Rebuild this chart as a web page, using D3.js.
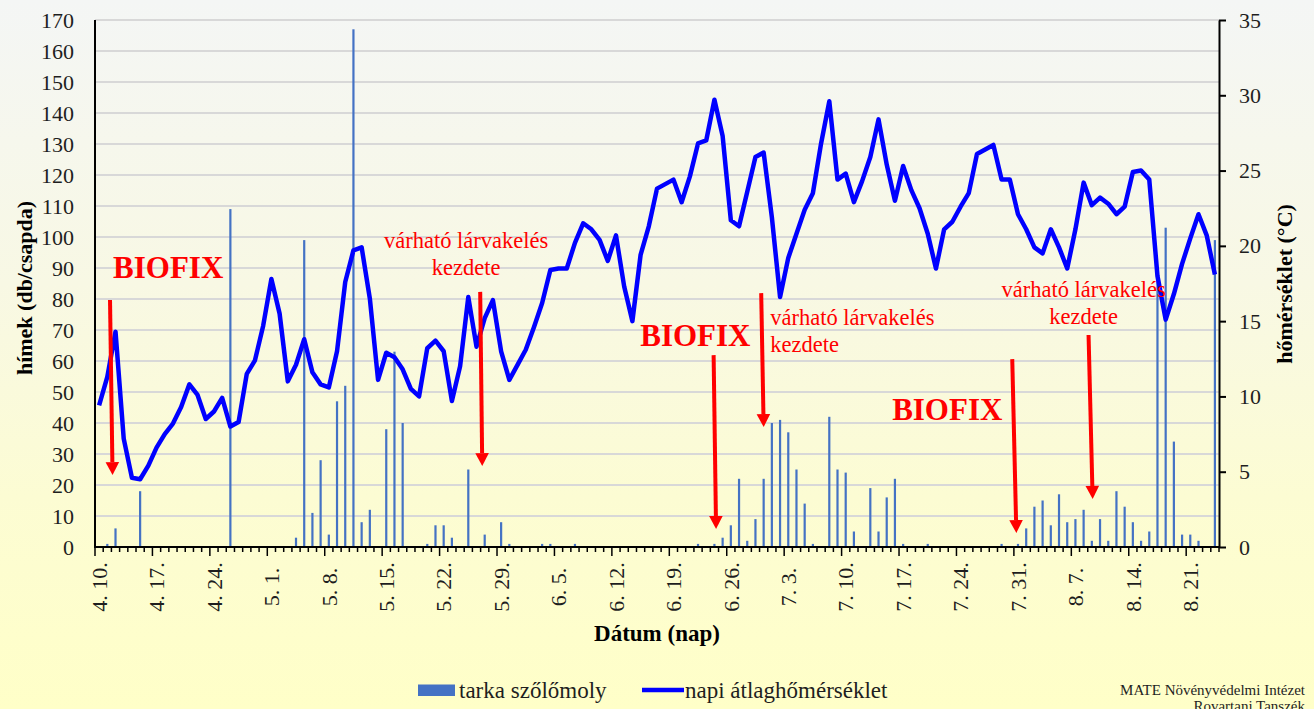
<!DOCTYPE html>
<html>
<head>
<meta charset="utf-8">
<script src="https://cdn.jsdelivr.net/npm/d3@7"></script>
<style>
  html, body { margin: 0; padding: 0; background: #fffcc8; }
  svg { display: block; font-family: "Liberation Serif", "Times New Roman", serif; }
</style>
</head>
<body>
<script>
// ---- data ----
// daily categories: 4.10. .. 8.24.
var days = d3.timeDay.range(new Date(2023, 3, 10), new Date(2023, 7, 25));

// tarka szőlőmoly catches (db/csapda), one per day, by day index
var moths = [
  0, 1, 6, 0, 0, 18, 0, 0, 0, 0,
  0, 0, 0, 0, 0, 0, 109, 0, 0, 0,
  0, 0, 0, 0, 3, 99, 11, 28, 4, 47,
  52, 167, 8, 12, 0, 38, 63, 40, 0, 0,
  1, 7, 7, 3, 0, 25, 0, 4, 0, 8,
  1, 0, 0, 0, 1, 1, 0, 0, 1, 0,
  0, 0, 0, 0, 0, 0, 0, 0, 0, 0,
  0, 0, 0, 1, 0, 1, 3, 7, 22, 2,
  9, 22, 40, 41, 37, 25, 14, 1, 0, 42,
  25, 24, 5, 0, 19, 5, 16, 22, 1, 0,
  0, 1, 0, 0, 0, 0, 0, 0, 0, 0,
  1, 0, 1, 6, 13, 15, 7, 17, 8, 9,
  12, 2, 9, 2, 18, 13, 8, 2, 5, 88,
  103, 34, 4, 4, 2, 0, 99
];

// napi átlaghőmérséklet (°C)
var temps = [
  9.4, 11.3, 14.3, 7.2, 4.6, 4.5, 5.4, 6.6, 7.5, 8.2,
  9.3, 10.8, 10.1, 8.5, 9.0, 9.9, 8.0, 8.3, 11.5, 12.4,
  14.7, 17.8, 15.5, 11.0, 12.1, 13.8, 11.6, 10.8, 10.6, 13.0,
  17.6, 19.7, 19.9, 16.5, 11.1, 12.9, 12.6, 11.8, 10.5, 10.0,
  13.2, 13.7, 13.0, 9.7, 12.0, 16.6, 13.3, 15.2, 16.4, 13.0,
  11.1, 12.1, 13.1, 14.6, 16.2, 18.4, 18.5, 18.5, 20.2, 21.5,
  21.1, 20.4, 19.0, 20.7, 17.3, 15.0, 19.4, 21.3, 23.8, 24.1,
  24.4, 22.9, 24.6, 26.8, 27.0, 29.7, 27.3, 21.7, 21.3, 23.6,
  25.9, 26.2, 21.9, 16.6, 19.2, 20.8, 22.4, 23.5, 26.8, 29.6,
  24.4, 24.8, 22.9, 24.3, 25.9, 28.4, 25.4, 23.0, 25.3, 23.7,
  22.5, 20.8, 18.5, 21.1, 21.6, 22.6, 23.5, 26.1, 26.4, 26.7,
  24.4, 24.4, 22.1, 21.1, 19.9, 19.5, 21.1, 19.9, 18.5, 21.1,
  24.2, 22.7, 23.2, 22.8, 22.1, 22.6, 24.9, 25.0, 24.4, 18.0,
  15.1, 16.8, 18.8, 20.5, 22.1, 20.7, 18.1
];

var tickLabels = ["4. 10.", "4. 17.", "4. 24.", "5. 1.", "5. 8.", "5. 15.", "5. 22.",
  "5. 29.", "6. 5.", "6. 12.", "6. 19.", "6. 26.", "7. 3.", "7. 10.", "7. 17.",
  "7. 24.", "7. 31.", "8. 7.", "8. 14.", "8. 21."];

var leftTicks = d3.range(0, 171, 10);
var rightTicks = d3.range(0, 36, 5);

// annotations: [day index, hímek value]
var biofixLabels = [[1.7, 86.8], [65.96, 64.8], [96.66, 41]];
var larvaLabels = [
  {at: [44.74, 96.5], anchor: "middle"},
  {at: [81.8, 71.6], anchor: "start"},
  {at: [120.0, 80.8], anchor: "middle"}
];
var arrows = [
  [[1.33, 79.7], [1.64, 23.2]],
  [[46.45, 82.3], [46.7, 26.1]],
  [[74.9, 61.9], [75.2, 5.8]],
  [[80.7, 81.9], [81.0, 38.7]],
  [[111.3, 60.6], [111.8, 4.5]],
  [[120.6, 68.4], [121.1, 15.5]]
];

/***** chart *****/
var width = 1314, height = 709,
    plotLeft = 95, plotRight = 1219, plotTop = 20, plotBottom = 547;

var svg = d3.select("body").append("svg")
    .attr("width", width)
    .attr("height", height);

var grad = svg.append("defs").append("linearGradient")
    .attr("id", "bg").attr("x1", 0).attr("y1", 0).attr("x2", 0).attr("y2", 1);
grad.append("stop").attr("offset", "0%").attr("stop-color", "#f4f6f5");
grad.append("stop").attr("offset", "40%").attr("stop-color", "#f8f8e4");
grad.append("stop").attr("offset", "70%").attr("stop-color", "#fcfcd3");
grad.append("stop").attr("offset", "100%").attr("stop-color", "#ffffc8");

svg.append("rect")
    .attr("width", width).attr("height", height)
    .attr("fill", "url(#bg)");

var x = d3.scaleBand()
    .domain(d3.range(days.length))
    .range([plotLeft, plotRight]);
var xb = d3.scaleLinear().domain([0, days.length]).range([plotLeft, plotRight]); // category edges
var xc = function (i) { return xb(i + 0.5); };                                    // category centre

var yL = d3.scaleLinear().domain([0, 170]).range([plotBottom, plotTop]);
var yR = d3.scaleLinear().domain([0, 35]).range([plotBottom, plotTop]);

// gridlines
svg.append("g").selectAll("line")
    .data(leftTicks.filter(function (d) { return d > 0; }))
    .enter().append("line")
    .attr("x1", plotLeft).attr("x2", plotRight)
    .attr("y1", function (d) { return yL(d); })
    .attr("y2", function (d) { return yL(d); })
    .attr("stroke", "#d8d8d8")
    .attr("stroke-width", 1.8);

// bars
svg.append("g").selectAll("rect")
    .data(moths)
    .enter().append("rect")
    .attr("x", function (d, i) { return x(i) + x.bandwidth() / 2 - 1.1; })
    .attr("width", 2.2)
    .attr("y", function (d) { return yL(d); })
    .attr("height", function (d) { return plotBottom - yL(d); })
    .attr("fill", "#4472c4");

// temperature line
var line = d3.line()
    .x(function (d, i) { return xc(i); })
    .y(function (d) { return yR(d); });

svg.append("path")
    .datum(temps)
    .attr("d", line)
    .attr("fill", "none")
    .attr("stroke", "#0000ff")
    .attr("stroke-width", 4.5)
    .attr("stroke-linejoin", "round");

// left axis
var gl = svg.append("g")
    .attr("transform", "translate(" + plotLeft + ",0)")
    .call(d3.axisLeft(yL).tickValues(leftTicks).tickSize(0).tickPadding(21));
gl.select(".domain").remove();
gl.append("line").attr("y1", plotTop).attr("y2", plotBottom + 1)
    .attr("stroke", "#000").attr("stroke-width", 2);

// right axis
var gr = svg.append("g")
    .attr("transform", "translate(" + plotRight + ",0)")
    .call(d3.axisRight(yR).tickValues(rightTicks).tickSize(7).tickSizeOuter(0).tickPadding(13));
gr.select(".domain").attr("stroke-width", 2);
gr.selectAll(".tick line").attr("stroke-width", 2);

svg.selectAll(".tick text")
    .attr("font-family", "Liberation Serif, serif")
    .attr("font-size", 22)
    .attr("fill", "#1e1e1e");

// bottom axis
var gb = svg.append("g");
gb.append("line").attr("x1", plotLeft).attr("x2", plotRight)
    .attr("y1", plotBottom).attr("y2", plotBottom)
    .attr("stroke", "#000").attr("stroke-width", 2);
gb.selectAll("line.t")
    .data(d3.range(days.length + 1))
    .enter().append("line")
    .attr("class", "t")
    .attr("x1", function (d) { return xb(d); })
    .attr("x2", function (d) { return xb(d); })
    .attr("y1", plotBottom)
    .attr("y2", function (d) { return plotBottom + (d % 7 === 0 ? 9 : 5); })
    .attr("stroke", "#000").attr("stroke-width", 1.5);
gb.selectAll("text")
    .data(tickLabels)
    .enter().append("text")
    .attr("transform", function (d, k) { return "translate(" + xc(k * 7) + ",587) rotate(-90)"; })
    .attr("text-anchor", "middle")
    .attr("dy", "0.35em")
    .attr("font-size", 22)
    .attr("fill", "#1e1e1e")
    .text(function (d) { return d; });

// axis titles
svg.append("text")
    .attr("transform", "translate(24,288) rotate(-90)")
    .attr("text-anchor", "middle").attr("dy", "0.35em")
    .attr("font-size", 22).attr("font-weight", "bold")
    .text("hímek (db/csapda)");
svg.append("text")
    .attr("transform", "translate(1284,284) rotate(-90)")
    .attr("text-anchor", "middle").attr("dy", "0.35em")
    .attr("font-size", 22).attr("font-weight", "bold")
    .text("hőmérséklet (°C)");
svg.append("text")
    .attr("x", (plotLeft + plotRight) / 2).attr("y", 641)
    .attr("text-anchor", "middle")
    .attr("font-size", 23).attr("font-weight", "bold")
    .text("Dátum (nap)");

// annotations
var ann = svg.append("g").attr("fill", "#ff0000");
ann.selectAll("text.bio")
    .data(biofixLabels)
    .enter().append("text")
    .attr("class", "bio")
    .attr("x", function (d) { return xc(d[0]); })
    .attr("y", function (d) { return yL(d[1]); })
    .attr("font-size", 31).attr("font-weight", "bold")
    .text("BIOFIX");

larvaLabels.forEach(function (l) {
    var t = ann.append("text")
        .attr("x", xc(l.at[0])).attr("y", yL(l.at[1]))
        .attr("text-anchor", l.anchor)
        .attr("font-size", 22.5);
    t.append("tspan").attr("x", xc(l.at[0])).text("várható lárvakelés");
    t.append("tspan").attr("x", xc(l.at[0])).attr("dy", 27).text("kezdete");
});

arrows.forEach(function (a) {
    var x0 = xc(a[0][0]), y0 = yL(a[0][1]),
        x1 = xc(a[1][0]), y1 = yL(a[1][1]);
    var len = Math.sqrt((x1 - x0) * (x1 - x0) + (y1 - y0) * (y1 - y0)),
        ux = (x1 - x0) / len, uy = (y1 - y0) / len,
        hl = 13, hw = 6.8;
    var bx = x1 - ux * hl, by = y1 - uy * hl;
    ann.append("line")
        .attr("x1", x0).attr("y1", y0).attr("x2", bx).attr("y2", by)
        .attr("stroke", "#ff0000").attr("stroke-width", 4);
    ann.append("path")
        .attr("d", "M" + x1 + "," + y1 +
            "L" + (bx - uy * hw) + "," + (by + ux * hw) +
            "L" + (bx + uy * hw) + "," + (by - ux * hw) + "Z");
});

// legend
var lg = svg.append("g");
lg.append("rect").attr("x", 418).attr("y", 684.5).attr("width", 37).attr("height", 11.5)
    .attr("fill", "#4472c4");
lg.append("text").attr("x", 459).attr("y", 690).attr("dy", "0.35em")
    .attr("font-size", 23).attr("fill", "#1e1e1e").text("tarka szőlőmoly");
lg.append("line").attr("x1", 642).attr("x2", 684).attr("y1", 690).attr("y2", 690)
    .attr("stroke", "#0000ff").attr("stroke-width", 4.5);
lg.append("text").attr("x", 685).attr("y", 690).attr("dy", "0.35em")
    .attr("font-size", 23).attr("fill", "#1e1e1e").text("napi átlaghőmérséklet");

// credit
svg.append("text").attr("x", 1305).attr("y", 695).attr("text-anchor", "end")
    .attr("font-size", 15).attr("fill", "#1e1e1e").text("MATE Növényvédelmi Intézet");
svg.append("text").attr("x", 1305).attr("y", 711).attr("text-anchor", "end")
    .attr("font-size", 15).attr("fill", "#1e1e1e").text("Rovartani Tanszék");
</script>
</body>
</html>
